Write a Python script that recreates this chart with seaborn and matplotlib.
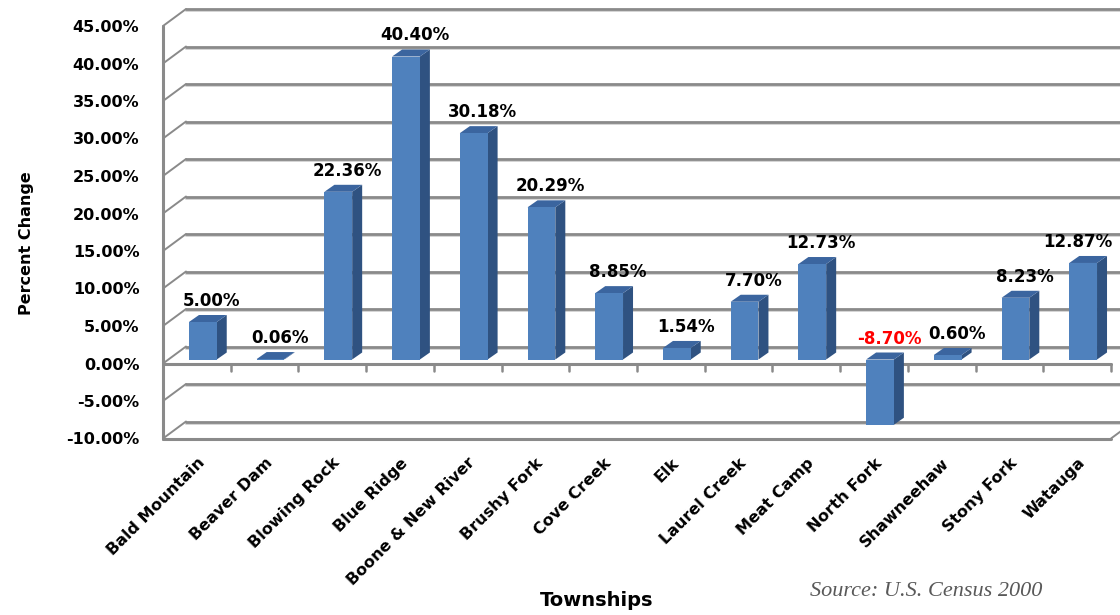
import matplotlib
matplotlib.use("Agg")
import matplotlib.pyplot as plt
from matplotlib.patches import Polygon
from matplotlib.transforms import ScaledTranslation
import seaborn as sns
import pandas as pd

# Percent population change by township, 1990-2000
townships = ["Bald Mountain", "Beaver Dam", "Blowing Rock", "Blue Ridge",
             "Boone & New River", "Brushy Fork", "Cove Creek", "Elk",
             "Laurel Creek", "Meat Camp", "North Fork", "Shawneehaw",
             "Stony Fork", "Watauga"]
pct_change = [5.00, 0.06, 22.36, 40.40, 30.18, 20.29, 8.85, 1.54,
              7.70, 12.73, -8.70, 0.60, 8.23, 12.87]
y_ticks = [-10, -5, 0, 5, 10, 15, 20, 25, 30, 35, 40, 45]

sns.set_style("white")
plt.rcParams["font.family"] = ["DejaVu Sans"]
plt.rcParams["text.color"] = "black"
plt.rcParams["xtick.color"] = "black"
plt.rcParams["ytick.color"] = "black"

DPI = 100
W, H = 1120, 615
fig = plt.figure(figsize=(W / DPI, H / DPI), dpi=DPI)

# front plane of the axes box, in pixels
left_px, right_px = 163, 1111
top_px, bottom_px = 26, 438.5
ax = fig.add_axes([left_px / W, (H - bottom_px) / H,
                   (right_px - left_px) / W, (bottom_px - top_px) / H])
ax.set_facecolor("none")
n = len(townships)
ymin, ymax = y_ticks[0], y_ticks[-1]

px_x = (right_px - left_px) / n            # pixels per category
px_y = (bottom_px - top_px) / (ymax - ymin)  # pixels per percent


def dx(p):
    return p / px_x


def dy(p):
    return p / px_y


GRID = "#8a8a8a"
GRID_LIGHT = "#d4d4d4"
DEPTH_X, DEPTH_Y = 23, 17   # depth of the back wall, px

df = pd.DataFrame({"Township": townships, "Change": pct_change})
sns.barplot(data=df, x="Township", y="Change", color="#4F81BD",
            saturation=1, width=0.41, ax=ax, edgecolor="none", zorder=4)

ax.set_xlim(-0.5, n - 0.5)
ax.set_ylim(ymin, ymax)
for s in ax.spines.values():
    s.set_visible(False)

# back wall gridlines and the receding lines that join them to the axis
x0, x1 = -0.5, n - 0.5
for yv in y_ticks:
    bx, by = dx(DEPTH_X), dy(DEPTH_Y)
    ax.plot([x0 + bx, x1 + bx], [yv + by - dy(2), yv + by - dy(2)],
            color=GRID_LIGHT, lw=1.4, clip_on=False, zorder=1)
    ax.plot([x0 + bx, x1 + bx], [yv + by, yv + by],
            color=GRID, lw=2.0, clip_on=False, zorder=1.2)
    ax.plot([x0, x0 + bx], [yv, yv + by], color=GRID, lw=1.4,
            clip_on=False, zorder=1.2)
ax.plot([x1, x1 + dx(DEPTH_X)], [ymin, ymin + dy(DEPTH_Y)], color=GRID,
        lw=1.4, clip_on=False, zorder=1.2)

# front edges of the floor and the value axis
ax.plot([x0, x1], [0, 0], color=GRID, lw=2.2, clip_on=False, zorder=3)
ax.plot([x0, x1], [ymin, ymin], color=GRID, lw=2.2, clip_on=False, zorder=3)
ax.plot([x0, x0], [ymin, ymax], color=GRID, lw=2.2, clip_on=False, zorder=3)
for b in range(1, n + 1):
    xb = b - 0.5
    ax.plot([xb, xb], [0, -dy(7)], color=GRID, lw=1.8, clip_on=False,
            zorder=3)

# bars: shift front faces into the floor and add side and top faces
front_shift = ScaledTranslation(6 / DPI, 4 / DPI, fig.dpi_scale_trans)
SIDE, TOP = "#2F5281", "#3B659F"
sdx, sdy = dx(10), dy(7)
for p, v in zip(ax.patches, pct_change):
    tr = ax.transData + front_shift
    p.set_transform(tr)
    bx0, bw = p.get_x(), p.get_width()
    lo, hi = min(0, v), max(0, v)
    side = Polygon([(bx0 + bw, lo), (bx0 + bw + sdx, lo + sdy),
                    (bx0 + bw + sdx, hi + sdy), (bx0 + bw, hi)],
                   closed=True, facecolor=SIDE, edgecolor="none",
                   transform=tr, zorder=3.5)
    top = Polygon([(bx0, hi), (bx0 + bw, hi), (bx0 + bw + sdx, hi + sdy),
                   (bx0 + sdx, hi + sdy)],
                  closed=True, facecolor=TOP, edgecolor="none",
                  transform=tr, zorder=3.5)
    ax.add_patch(side)
    ax.add_patch(top)

# value labels, kept inside the figure at the right edge
value_labels = []
for i, v in enumerate(pct_change):
    t = ax.text(i + dx(15), max(v, 0) + dy(20), f"{v:.2f}%",
                ha="center", va="baseline", fontsize=12, fontweight="bold",
                color="#FF0000" if v < 0 else "black", zorder=6,
                clip_on=False)
    value_labels.append(t)

# ticks and tick labels
ax.set_yticks(y_ticks)
ax.set_yticklabels([f"{t:.2f}%" for t in y_ticks])
ax.tick_params(axis="y", length=5, width=1.4, color=GRID, pad=12,
               labelsize=11.5)
ax.set_xticks(range(n))
ax.set_xticklabels(townships)
ax.tick_params(axis="x", length=0, pad=12, labelsize=11.5)
for lab in ax.get_yticklabels():
    lab.set_fontweight("bold")
for lab in ax.get_xticklabels():
    lab.set_fontweight("bold")
    lab.set_rotation(45)
    lab.set_ha("right")
    lab.set_va("top")
    lab.set_rotation_mode("anchor")

ax.set_xlabel("")
ax.set_ylabel("")
fig.text(27 / W, 1 - 243 / H, "Percent Change", rotation=90,
         ha="center", va="center", fontsize=11.5, fontweight="bold")
fig.text(597 / W, 1 - 601 / H, "Townships", ha="center", va="center",
         fontsize=14, fontweight="bold")
fig.text(810 / W, 1 - 592 / H, "Source: U.S. Census 2000", ha="left",
         va="center", fontsize=16, fontstyle="italic",
         family="Liberation Serif", color="#595959")

fig.canvas.draw()
renderer = fig.canvas.get_renderer()
for t in value_labels:
    bb = t.get_window_extent(renderer)
    overflow = bb.x1 - (W - 8)
    if overflow > 0:
        xd, yd = t.get_position()
        t.set_position((xd - dx(overflow), yd))

fig.savefig("out.png", dpi=DPI)
